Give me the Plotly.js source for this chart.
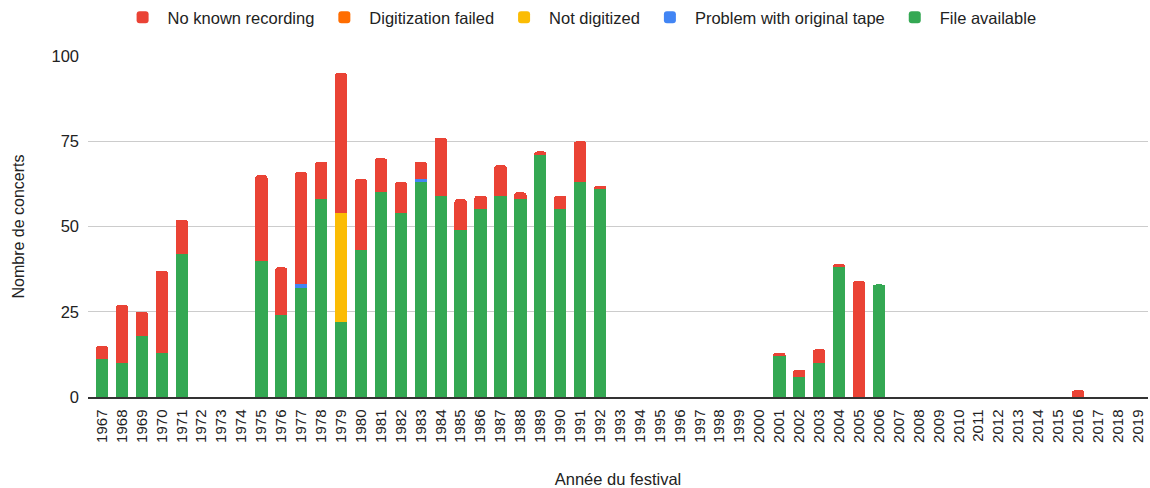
<!DOCTYPE html>
<html>
<head>
<meta charset="utf-8">
<script src="https://cdn.plot.ly/plotly-3.0.1.min.js"></script>
<style>html,body{margin:0;padding:0;background:#fff;}#chart{width:1150px;height:488px;}</style>
</head>
<body>
<div id="chart"></div>
<script>
const years = ["1967","1968","1969","1970","1971","1972","1973","1974","1975","1976","1977","1978","1979","1980","1981","1982","1983","1984","1985","1986","1987","1988","1989","1990","1991","1992","1993","1994","1995","1996","1997","1998","1999","2000","2001","2002","2003","2004","2005","2006","2007","2008","2009","2010","2011","2012","2013","2014","2015","2016","2017","2018","2019"];
const fileAvailable = [11,10,18,13,42,0,0,0,40,24,32,58,22,43,60,54,63,59,49,55,59,58,71,55,63,61,0,0,0,0,0,0,0,0,12,6,10,38,0,33,0,0,0,0,0,0,0,0,0,0,0,0,0];
const problemTape =   [0,0,0,0,0,0,0,0,0,0,1,0,0,0,0,0,1,0,0,0,0,0,0,0,0,0,0,0,0,0,0,0,0,0,0,0,0,0,0,0,0,0,0,0,0,0,0,0,0,0,0,0,0];
const notDigitized =  [0,0,0,0,0,0,0,0,0,0,0,0,32,0,0,0,0,0,0,0,0,0,0,0,0,0,0,0,0,0,0,0,0,0,0,0,0,0,0,0,0,0,0,0,0,0,0,0,0,0,0,0,0];
const digitFailed =   [0,0,0,0,0,0,0,0,0,0,0,0,0,0,0,0,0,0,0,0,0,0,0,0,0,0,0,0,0,0,0,0,0,0,0,0,0,0,0,0,0,0,0,0,0,0,0,0,0,0,0,0,0];
const noRecording =   [4,17,7,24,10,0,0,0,25,14,33,11,41,21,10,9,5,17,9,4,9,2,1,4,12,1,0,0,0,0,0,0,0,0,1,2,4,1,34,0,0,0,0,0,0,0,0,0,0,2,0,0,0];
const yTicks = [0,25,50,75,100];

const font = "Liberation Sans, Arial, sans-serif";
function tr(name, vals, color){
  return {type:'bar', name:name, x:years, y:vals, marker:{color:color, line:{width:0}}, hoverinfo:'x+y+name'};
}
const data = [
  tr("File available", fileAvailable, "#34a853"),
  tr("Problem with original tape", problemTape, "#4285f4"),
  tr("Not digitized", notDigitized, "#fbbc04"),
  tr("Digitization failed", digitFailed, "#ff6d01"),
  tr("No known recording", noRecording, "#ea4335")
];
const layout = {
  width:1150, height:488,
  margin:{l:88, r:2, t:56, b:91},
  barmode:'stack', bargap:0.38, barcornerradius:3,
  paper_bgcolor:'#fff', plot_bgcolor:'#fff',
  font:{family:font, size:16, color:'#222'},
  showlegend:true,
  legend:{orientation:'h', traceorder:'reversed', xref:'container', yref:'container', x:0.504, xanchor:'center', y:1.0, yanchor:'top', font:{family:font, size:16.5, color:'#222'}, itemwidth:40},
  xaxis:{type:'category', range:[-0.703,52.502], tickangle:-90, tickfont:{family:font,size:15,color:'#222'}, ticklabelstandoff:5, showline:true, linecolor:'#333', linewidth:1.5, ticks:'', showgrid:false,
    title:{text:"Année du festival", font:{family:font,size:16.5,color:'#222'}, standoff:32}},
  yaxis:{range:[0,100], tickvals:yTicks, ticktext:yTicks.map(String), gridcolor:'#cccccc', zeroline:false, ticks:'', ticklabelstandoff:8, tickfont:{family:font,size:16.5,color:'#222'},
    title:{text:"Nombre de concerts", font:{family:font,size:16,color:'#222'}, standoff:22}}
};
Plotly.newPlot('chart', data, layout, {displayModeBar:false, staticPlot:true});
</script>
</body>
</html>
